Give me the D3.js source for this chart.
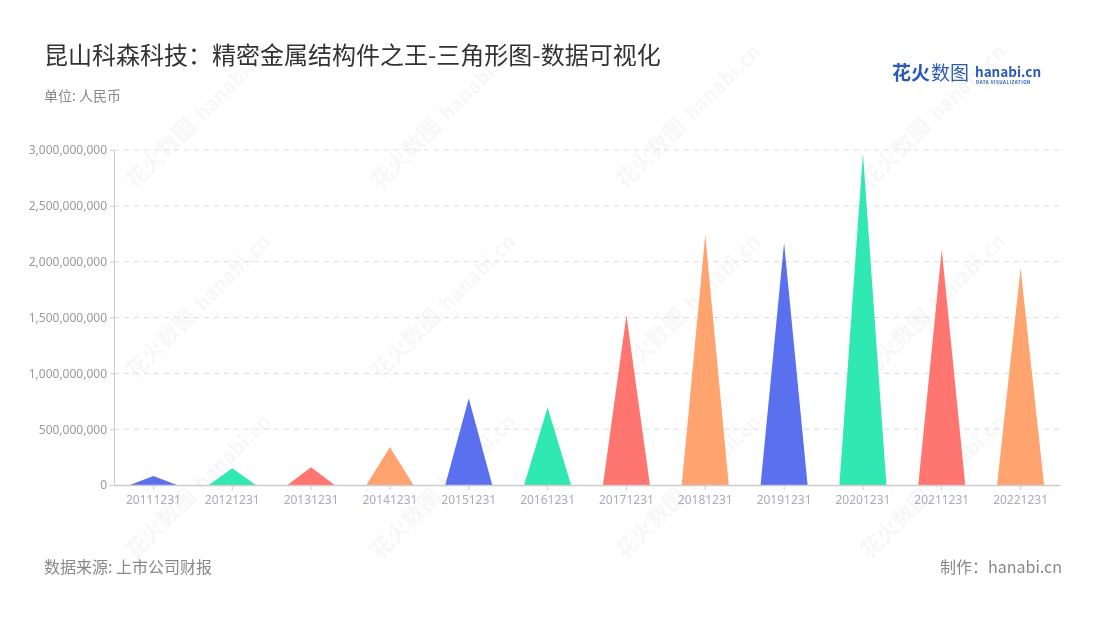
<!DOCTYPE html>
<html><head><meta charset="utf-8">
<script src="https://cdn.jsdelivr.net/npm/d3@7"></script>
<style>
html,body{margin:0;padding:0;background:#fff;}
text{font-family:"Noto Sans CJK SC","Noto Sans",sans-serif;}
</style></head>
<body>
<svg id="chart" width="1100" height="620"></svg>
<script>
const categories = ["20111231","20121231","20131231","20141231","20151231","20161231","20171231","20181231","20191231","20201231","20211231","20221231"];
const values = [80000000,150000000,160000000,340000000,775000000,695000000,1520000000,2240000000,2170000000,2970000000,2110000000,1940000000];
const colors = ["#5A70EE","#2FE8B2","#FF7670","#FFA36F"];
const yTicks = [0,500000000,1000000000,1500000000,2000000000,2500000000,3000000000];

const svg = d3.select("#chart");
const x = d3.scaleBand().domain(categories).range([114,1060]).paddingInner(0).paddingOuter(0);
const y = d3.scaleLinear().domain([0,3000000000]).range([485,150]);

// watermarks
const wm = svg.append("g").attr("fill","#000").attr("opacity",0.035);
const wmPos = [[135,380],[380,380],[625,380],[870,380],[135,560],[380,560],[625,560],[870,560],[135,190],[380,190],[625,190],[870,190]];
wmPos.forEach(p=>{
  const g = wm.append("g").attr("transform",`translate(${p[0]},${p[1]}) rotate(-45)`);
  g.append("text").attr("font-size",22).attr("font-weight",700).text("花火数图");
  g.append("text").attr("x",96).attr("font-size",20).attr("font-weight",700).text("hanabi.cn");
});

// title
svg.append("text").attr("x",44).attr("y",64).attr("font-size",24).attr("fill","#333").text("昆山科森科技：精密金属结构件之王-三角形图-数据可视化");
svg.append("text").attr("x",44).attr("y",101).attr("font-size",14).attr("fill","#888").text("单位: 人民币");

// logo
const logo = svg.append("g");
logo.append("text").attr("x",892).attr("y",80).attr("font-size",19).attr("font-weight",700).attr("fill","#2b5bb5").text("花火");
logo.append("text").attr("x",931).attr("y",80).attr("font-size",19).attr("fill","#2b5bb5").text("数图");
logo.append("text").attr("x",975).attr("y",77).attr("font-size",13.5).attr("font-weight",700).attr("fill","#2b5bb5").text("hanabi.cn");
logo.append("text").attr("x",976).attr("y",84).attr("font-size",4.5).attr("font-weight",700).attr("fill","#2b5bb5").attr("letter-spacing",0.5).text("DATA VISUALIZATION");

// grid
svg.append("g").selectAll("line").data(yTicks.filter(d=>d>0)).join("line")
  .attr("x1",114).attr("x2",1060).attr("y1",d=>y(d)).attr("y2",d=>y(d))
  .attr("stroke","#ddd").attr("stroke-dasharray","5,5");

// y axis
const yAxis = svg.append("g").attr("transform","translate(114,0)")
  .call(d3.axisLeft(y).tickValues(yTicks).tickFormat(d3.format(",")).tickSize(4).tickSizeOuter(0));
yAxis.select(".domain").attr("stroke","#ccc").attr("stroke-width",1);
yAxis.selectAll(".tick line").attr("stroke","#ccc");
yAxis.selectAll(".tick text").attr("fill","#999").attr("font-size",12).attr("x",-7)
  .style("font-family","'Noto Sans','Noto Sans CJK SC',sans-serif");

// triangles
const tw = 47;
svg.append("g").selectAll("path").data(values).join("path")
  .attr("d",(d,i)=>{
    const cx = x(categories[i]) + x.bandwidth()/2;
    return `M${cx-tw/2},${y(0)}L${cx},${y(d)}L${cx+tw/2},${y(0)}Z`;
  })
  .attr("fill",(d,i)=>colors[i%4]);

// x axis
const xAxis = svg.append("g").attr("transform",`translate(0,${y(0)})`)
  .call(d3.axisBottom(x).tickSize(5).tickSizeOuter(0));
xAxis.select(".domain").attr("stroke","#ccc").attr("stroke-width",1.5);
xAxis.selectAll(".tick line").attr("stroke","#ccc");
xAxis.selectAll(".tick text").attr("fill","#aab").attr("font-size",12).attr("dy","0.9em")
  .style("font-family","'Noto Sans','Noto Sans CJK SC',sans-serif");

// footer
svg.append("text").attr("x",44).attr("y",573).attr("font-size",16).attr("fill","#888").text("数据来源: 上市公司财报");
svg.append("text").attr("x",1062).attr("y",573).attr("text-anchor","end").attr("font-size",16).attr("fill","#888").text("制作：hanabi.cn");
</script>
</body></html>
